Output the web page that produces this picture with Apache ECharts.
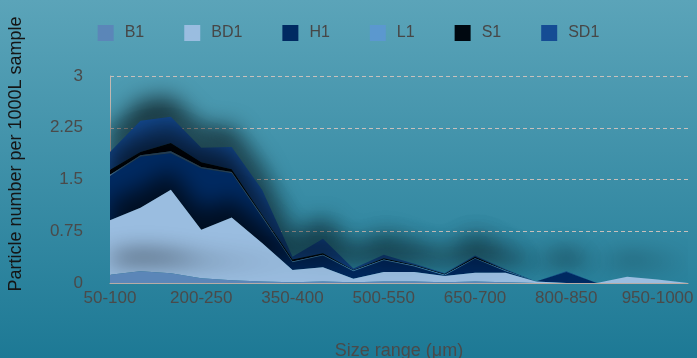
<!DOCTYPE html>
<html>
<head>
<meta charset="utf-8">
<script src="https://cdn.jsdelivr.net/npm/echarts@6/dist/echarts.min.js"></script>
<style>html,body{margin:0;padding:0;}#c{width:697px;height:358px;}</style>
</head>
<body>
<div id="c"></div>
<script>
const categories = ['50-100','100-150','150-200','200-250','250-300','300-350','350-400','400-450','450-500','500-550','550-600','600-650','650-700','700-750','750-800','800-850','850-900','900-950','950-1000','>1000'];
const seriesNames = ['B1','BD1','H1','L1','S1','SD1'];
const B1  = [0.12,0.17,0.14,0.07,0.04,0.02,0.01,0.02,0.01,0.02,0.02,0.01,0.02,0.01,0,0,0,0,0,0];
const BD1 = [0.79,0.92,1.21,0.70,0.91,0.56,0.18,0.21,0.05,0.14,0.14,0.09,0.13,0.14,0.02,0,0,0.09,0.05,0];
const H1  = [0.64,0.74,0.53,0.89,0.64,0.37,0.11,0.17,0.11,0.17,0.08,0.01,0.20,0.02,0,0.16,0,0,0,0];
const L1  = [0.02,0.02,0.03,0.02,0.02,0.02,0.01,0.01,0.01,0.01,0.01,0.01,0.01,0.01,0,0,0,0,0,0];
const S1  = [0.07,0.05,0.12,0.07,0.04,0.02,0.03,0.02,0.01,0.02,0.01,0.01,0.02,0.01,0,0,0,0,0,0];
const SD1 = [0.26,0.45,0.38,0.21,0.32,0.36,0.04,0.21,0.02,0.05,0.02,0.01,0.02,0.01,0,0.01,0,0,0,0];
const yTicks = ['0','0.75','1.5','2.25','3'];

const values = [B1, BD1, H1, L1, S1, SD1];
const colors = ['#5b86b8','#9abde0','#002a62','#5b98cf','#000810','#154c94'];
const FONT = "'Liberation Sans', Arial, sans-serif";

const chart = echarts.init(document.getElementById('c'));
chart.setOption({
  animation: false,
  backgroundColor: new echarts.graphic.LinearGradient(0,0,0,1,[
    {offset:0,color:'#5ba4b9'},{offset:1,color:'#1d7995'}
  ]),
  textStyle: {fontFamily: FONT},
  color: colors,
  legend: {
    top: 20, left: 'center', icon: 'rect', itemWidth: 16, itemHeight: 16, itemGap: 40,
    data: seriesNames,
    textStyle: {fontSize: 16, color: '#474747', fontFamily: FONT, padding: [0,0,0,6]}
  },
  grid: {left: 110, right: 9, top: 76, bottom: 75, containLabel: false, outerBoundsMode: 'none'},
  graphic: [{
    type: 'text', x: 16, y: 154, rotation: Math.PI/2,
    style: {text: 'Particle number per 1000L sample', fontSize: 18, fontFamily: FONT,
      fill: '#151515', align: 'center', verticalAlign: 'middle'}
  }],
  xAxis: {
    type: 'category', data: categories, boundaryGap: false,
    name: 'Size range (μm)', nameLocation: 'middle', nameGap: 59,
    nameTextStyle: {fontSize: 18, color: '#4a4a4a', fontFamily: FONT},
    axisLine: {lineStyle: {color: '#b8aca6', width: 1}},
    axisTick: {show: false},
    axisLabel: {interval: 2, fontSize: 17, color: '#4a4a4a', margin: 7, fontFamily: FONT}
  },
  yAxis: {
    type: 'value', min: 0, max: 3, interval: 0.75,
    axisLine: {show: true, lineStyle: {color: '#c4b8b2', width: 1}},
    axisTick: {show: false},
    axisLabel: {fontSize: 17, color: '#4a4a4a', margin: 27, fontFamily: FONT,
      formatter: function (v) { return yTicks[Math.round(v / 0.75)]; }},
    splitLine: {show: true, lineStyle: {color: '#c8c0bc', type: [4,3], width: 1}}
  },
  series: seriesNames.map(function (n, i) {
    return {
      name: n, type: 'line', stack: 'total', data: values[i],
      symbol: 'none', z: 10 - i,
      lineStyle: {width: 0},
      itemStyle: {color: colors[i]},
      areaStyle: {color: colors[i], opacity: 1, shadowBlur: 22, shadowColor: 'rgba(0,0,0,0.65)', shadowOffsetY: -20}
    };
  })
});
</script>
</body>
</html>
